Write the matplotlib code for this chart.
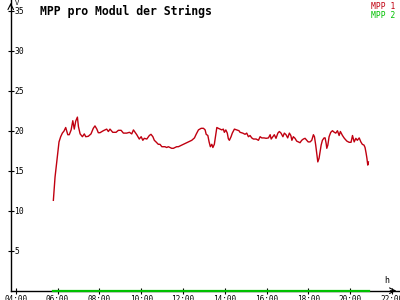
import matplotlib
matplotlib.use('Agg')
import matplotlib.pyplot as plt

# MPP 1 (hours of day, value)
mpp1_hours = [5.80, 5.88, 6.01, 6.07, 6.15, 6.23, 6.31, 6.39, 6.49, 6.56, 6.65, 6.73, 6.80, 6.87, 6.95,
              7.00, 7.08, 7.19, 7.28, 7.35, 7.47, 7.60, 7.71, 7.79, 7.88, 7.95, 8.03, 8.19, 8.35, 8.43,
              8.51, 8.64, 8.80, 8.91, 9.04, 9.15, 9.31, 9.44, 9.55, 9.63, 9.71, 9.79, 9.91, 10.00, 10.08,
              10.15, 10.27, 10.39, 10.47, 10.56, 10.63, 10.71, 10.82, 10.90, 10.99, 11.14, 11.22, 11.30,
              11.38, 11.46, 11.54, 11.62, 11.70, 11.78, 11.94, 12.10, 12.26, 12.42, 12.55, 12.63, 12.74,
              12.87, 12.98, 13.06, 13.11, 13.19, 13.25, 13.31, 13.38, 13.43, 13.50, 13.57, 13.62, 13.69,
              13.78, 13.86, 13.93, 13.98, 14.05, 14.12, 14.17, 14.22, 14.30, 14.36, 14.46, 14.57, 14.68,
              14.73, 14.86, 14.97, 15.05, 15.13, 15.21, 15.29, 15.37, 15.50, 15.61, 15.69, 15.77, 15.88,
              15.98, 16.09, 16.17, 16.22, 16.30, 16.37, 16.45, 16.54, 16.61, 16.69, 16.78, 16.85, 16.93,
              17.01, 17.09, 17.16, 17.21, 17.28, 17.36, 17.44, 17.52, 17.60, 17.68, 17.76, 17.84, 17.92,
              17.99, 18.08, 18.16, 18.24, 18.29, 18.35, 18.40, 18.45, 18.51, 18.56, 18.61, 18.67, 18.75,
              18.80, 18.85, 18.88, 18.93, 18.99, 19.07, 19.15, 19.24, 19.31, 19.39, 19.47, 19.53, 19.63,
              19.72, 19.84, 19.95, 20.04, 20.11, 20.19, 20.27, 20.34, 20.43, 20.51, 20.58, 20.66, 20.71,
              20.76, 20.80, 20.84, 20.87]
mpp1_values = [11.3, 14.2, 17.2, 18.6, 19.25, 19.7, 19.96, 20.4, 19.5, 19.5, 20.1, 21.25, 20.2, 21.2, 21.7,
               20.5, 19.6, 19.25, 19.6, 19.25, 19.3, 19.6, 20.3, 20.6, 20.2, 19.75, 19.75, 20.0, 20.2, 19.9,
               20.2, 19.8, 19.8, 20.05, 20.05, 19.7, 19.7, 19.8, 19.6, 20.1, 19.8, 19.5, 18.96, 19.25, 18.8,
               19.05, 18.96, 19.4, 19.55, 19.25, 18.8, 18.6, 18.3, 18.3, 18.0, 18.0, 17.9, 18.0,
               17.9, 17.8, 17.8, 17.9, 18.0, 18.0, 18.2, 18.4, 18.6, 18.8, 19.1, 19.55, 20.1,
               20.3, 20.3, 20.1, 19.55, 19.4, 18.6, 18.0, 18.3, 17.9, 18.3, 19.5, 20.4, 20.3,
               20.2, 20.1, 20.2, 19.8, 20.1, 19.7, 19.0, 18.8, 19.25, 19.7, 20.2, 20.1, 20.0,
               19.8, 19.7, 19.55, 19.7, 19.25, 19.4, 19.1, 18.96, 18.96, 18.8, 19.25, 19.1, 19.1,
               19.05, 19.1, 19.5, 18.96, 19.25, 19.5, 19.05, 19.7, 19.9, 19.7, 19.25, 19.7, 19.5,
               19.1, 19.7, 19.4, 18.8, 19.25, 19.05, 18.7, 18.6, 18.5, 18.8, 18.96, 19.05, 18.8,
               18.6, 18.6, 18.8, 19.5, 19.25, 18.2, 17.2, 16.1, 16.55, 17.4, 18.2, 18.8, 19.1,
               19.1, 18.4, 17.8, 18.2, 19.25, 19.8, 20.0, 19.8, 19.7, 20.0, 19.4, 19.9, 19.4,
               19.05, 18.7, 18.55, 18.55, 19.4, 18.6, 19.05, 18.8, 19.1, 18.6, 18.3, 18.2, 17.9,
               17.2, 16.55, 15.7, 16.1]

# MPP 2 stays at zero all day
mpp2_hours = [5.78, 20.90]
mpp2_values = [0, 0]

xticks = [4, 6, 8, 10, 12, 14, 16, 18, 20, 22]
xtick_labels = ['04:00', '06:00', '08:00', '10:00', '12:00', '14:00', '16:00', '18:00', '20:00', '22:00']
yticks = [5, 10, 15, 20, 25, 30, 35]

red = '#c00010'
green = '#00c000'
mono = 'DejaVu Sans Mono'

fig = plt.figure(figsize=(4, 3), dpi=100)
ax = fig.add_axes([0.0268, 0.031, 0.971, 0.969])
ax.set_xlim(3.76, 22.34)
ax.set_ylim(0, 36.34)

ax.plot(mpp1_hours, mpp1_values, color=red, lw=1.0)
ax.plot(mpp2_hours, mpp2_values, color=green, lw=1.6, clip_on=False, zorder=5)

for s in ['top', 'right']:
    ax.spines[s].set_visible(False)
for s in ['left', 'bottom']:
    ax.spines[s].set_linewidth(1.0)

ax.set_xticks(xticks)
ax.set_xticklabels(xtick_labels, family=mono, fontsize=5.6)
ax.set_yticks(yticks)
ax.set_yticklabels([str(v) for v in yticks], family=mono, fontsize=5.8)
ax.tick_params(axis='x', direction='inout', length=5, width=0.8, pad=0.3)
ax.tick_params(axis='y', direction='inout', length=5, width=0.8, pad=-5)
for lab in ax.get_yticklabels():
    lab.set_ha('left')

# axis arrows
ax.annotate('', xy=(0, 1.0), xytext=(0, 0.97), xycoords='axes fraction',
            arrowprops=dict(arrowstyle='->', lw=0.8, color='black'))
ax.annotate('', xy=(1.0, 0), xytext=(0.97, 0), xycoords='axes fraction',
            arrowprops=dict(arrowstyle='->', lw=0.8, color='black'))

ax.text(0.011, 1.0, 'V', transform=ax.transAxes, family=mono, fontsize=5, va='top', ha='left')
ax.text(0.969, 0.02, 'h', transform=ax.transAxes, family=mono, fontsize=6, va='bottom', ha='center')

fig.text(0.1, 0.985, 'MPP pro Modul der Strings', family=mono, fontsize=8.3,
         fontweight='bold', va='top', ha='left')
fig.text(0.988, 0.992, 'MPP 1', family=mono, fontsize=5.8, color=red, va='top', ha='right')
fig.text(0.988, 0.965, 'MPP 2', family=mono, fontsize=5.8, color=green, va='top', ha='right')

fig.savefig('out.png', dpi=100)
